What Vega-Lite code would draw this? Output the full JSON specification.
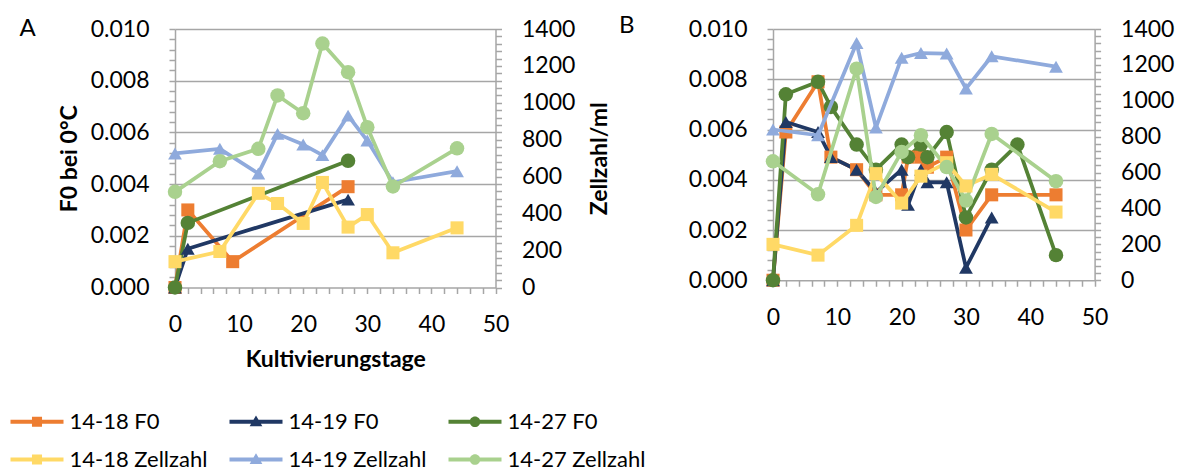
{
  "$schema": "https://vega.github.io/schema/vega-lite/v6.json",
  "autosize": {"type": "pad"},
  "padding": {"left": 10, "top": 14, "right": 5, "bottom": 0},
  "background": "#ffffff",
  "datasets": {
    "A_F0": [
      {"series": "14-18 F0", "day": 0, "value": 0},
      {"series": "14-18 F0", "day": 2, "value": 0.003},
      {"series": "14-18 F0", "day": 9, "value": 0.001},
      {"series": "14-18 F0", "day": 27, "value": 0.0039},
      {"series": "14-19 F0", "day": 0, "value": 0},
      {"series": "14-19 F0", "day": 2, "value": 0.0015},
      {"series": "14-19 F0", "day": 27, "value": 0.0034},
      {"series": "14-27 F0", "day": 0, "value": 0},
      {"series": "14-27 F0", "day": 2, "value": 0.0025},
      {"series": "14-27 F0", "day": 27, "value": 0.0049}
    ],
    "A_Z": [
      {"series": "14-18 Zellzahl", "day": 0, "value": 140},
      {"series": "14-18 Zellzahl", "day": 7, "value": 195},
      {"series": "14-18 Zellzahl", "day": 13, "value": 510},
      {"series": "14-18 Zellzahl", "day": 16, "value": 455},
      {"series": "14-18 Zellzahl", "day": 20, "value": 347},
      {"series": "14-18 Zellzahl", "day": 23, "value": 569},
      {"series": "14-18 Zellzahl", "day": 27, "value": 327},
      {"series": "14-18 Zellzahl", "day": 30, "value": 395},
      {"series": "14-18 Zellzahl", "day": 34, "value": 188},
      {"series": "14-18 Zellzahl", "day": 44, "value": 323},
      {"series": "14-19 Zellzahl", "day": 0, "value": 726},
      {"series": "14-19 Zellzahl", "day": 7, "value": 751},
      {"series": "14-19 Zellzahl", "day": 13, "value": 617},
      {"series": "14-19 Zellzahl", "day": 16, "value": 832},
      {"series": "14-19 Zellzahl", "day": 20, "value": 774},
      {"series": "14-19 Zellzahl", "day": 23, "value": 717},
      {"series": "14-19 Zellzahl", "day": 27, "value": 931},
      {"series": "14-19 Zellzahl", "day": 30, "value": 796},
      {"series": "14-19 Zellzahl", "day": 34, "value": 570},
      {"series": "14-19 Zellzahl", "day": 44, "value": 630},
      {"series": "14-27 Zellzahl", "day": 0, "value": 518},
      {"series": "14-27 Zellzahl", "day": 7, "value": 684},
      {"series": "14-27 Zellzahl", "day": 13, "value": 751},
      {"series": "14-27 Zellzahl", "day": 16, "value": 1040},
      {"series": "14-27 Zellzahl", "day": 20, "value": 944},
      {"series": "14-27 Zellzahl", "day": 23, "value": 1321},
      {"series": "14-27 Zellzahl", "day": 27, "value": 1166},
      {"series": "14-27 Zellzahl", "day": 30, "value": 868},
      {"series": "14-27 Zellzahl", "day": 34, "value": 547},
      {"series": "14-27 Zellzahl", "day": 44, "value": 754}
    ],
    "B_F0": [
      {"series": "14-18 F0", "day": 0, "value": 0},
      {"series": "14-18 F0", "day": 2, "value": 0.0059},
      {"series": "14-18 F0", "day": 7, "value": 0.0079},
      {"series": "14-18 F0", "day": 9, "value": 0.0049},
      {"series": "14-18 F0", "day": 13, "value": 0.0044},
      {"series": "14-18 F0", "day": 16, "value": 0.0034},
      {"series": "14-18 F0", "day": 20, "value": 0.0034},
      {"series": "14-18 F0", "day": 21, "value": 0.0049},
      {"series": "14-18 F0", "day": 23, "value": 0.0049},
      {"series": "14-18 F0", "day": 24, "value": 0.0045},
      {"series": "14-18 F0", "day": 27, "value": 0.0049},
      {"series": "14-18 F0", "day": 30, "value": 0.002},
      {"series": "14-18 F0", "day": 34, "value": 0.0034},
      {"series": "14-18 F0", "day": 44, "value": 0.0034},
      {"series": "14-19 F0", "day": 0, "value": 0},
      {"series": "14-19 F0", "day": 2, "value": 0.0063},
      {"series": "14-19 F0", "day": 7, "value": 0.0059},
      {"series": "14-19 F0", "day": 9, "value": 0.0049},
      {"series": "14-19 F0", "day": 13, "value": 0.0044},
      {"series": "14-19 F0", "day": 16, "value": 0.0035},
      {"series": "14-19 F0", "day": 20, "value": 0.0044},
      {"series": "14-19 F0", "day": 21, "value": 0.003},
      {"series": "14-19 F0", "day": 23, "value": 0.0044},
      {"series": "14-19 F0", "day": 24, "value": 0.0039},
      {"series": "14-19 F0", "day": 27, "value": 0.0039},
      {"series": "14-19 F0", "day": 30, "value": 0.0005},
      {"series": "14-19 F0", "day": 34, "value": 0.0025},
      {"series": "14-27 F0", "day": 0, "value": 0},
      {"series": "14-27 F0", "day": 2, "value": 0.0074},
      {"series": "14-27 F0", "day": 7, "value": 0.0079},
      {"series": "14-27 F0", "day": 9, "value": 0.0069},
      {"series": "14-27 F0", "day": 13, "value": 0.0054},
      {"series": "14-27 F0", "day": 16, "value": 0.0044},
      {"series": "14-27 F0", "day": 20, "value": 0.0054},
      {"series": "14-27 F0", "day": 21, "value": 0.0049},
      {"series": "14-27 F0", "day": 23, "value": 0.0054},
      {"series": "14-27 F0", "day": 24, "value": 0.0049},
      {"series": "14-27 F0", "day": 27, "value": 0.0059},
      {"series": "14-27 F0", "day": 30, "value": 0.0025},
      {"series": "14-27 F0", "day": 34, "value": 0.0044},
      {"series": "14-27 F0", "day": 38, "value": 0.0054},
      {"series": "14-27 F0", "day": 44, "value": 0.001}
    ],
    "B_Z": [
      {"series": "14-18 Zellzahl", "day": 0, "value": 200},
      {"series": "14-18 Zellzahl", "day": 7, "value": 140},
      {"series": "14-18 Zellzahl", "day": 13, "value": 306},
      {"series": "14-18 Zellzahl", "day": 16, "value": 594},
      {"series": "14-18 Zellzahl", "day": 20, "value": 430},
      {"series": "14-18 Zellzahl", "day": 23, "value": 580},
      {"series": "14-18 Zellzahl", "day": 27, "value": 655},
      {"series": "14-18 Zellzahl", "day": 30, "value": 525},
      {"series": "14-18 Zellzahl", "day": 34, "value": 590},
      {"series": "14-18 Zellzahl", "day": 44, "value": 380},
      {"series": "14-19 Zellzahl", "day": 0, "value": 840},
      {"series": "14-19 Zellzahl", "day": 7, "value": 808},
      {"series": "14-19 Zellzahl", "day": 13, "value": 1322},
      {"series": "14-19 Zellzahl", "day": 16, "value": 851},
      {"series": "14-19 Zellzahl", "day": 20, "value": 1240},
      {"series": "14-19 Zellzahl", "day": 23, "value": 1266},
      {"series": "14-19 Zellzahl", "day": 27, "value": 1263},
      {"series": "14-19 Zellzahl", "day": 30, "value": 1068},
      {"series": "14-19 Zellzahl", "day": 34, "value": 1248},
      {"series": "14-19 Zellzahl", "day": 44, "value": 1190},
      {"series": "14-27 Zellzahl", "day": 0, "value": 663},
      {"series": "14-27 Zellzahl", "day": 7, "value": 479},
      {"series": "14-27 Zellzahl", "day": 13, "value": 1179},
      {"series": "14-27 Zellzahl", "day": 16, "value": 464},
      {"series": "14-27 Zellzahl", "day": 20, "value": 715},
      {"series": "14-27 Zellzahl", "day": 23, "value": 808},
      {"series": "14-27 Zellzahl", "day": 27, "value": 631},
      {"series": "14-27 Zellzahl", "day": 30, "value": 444},
      {"series": "14-27 Zellzahl", "day": 34, "value": 815},
      {"series": "14-27 Zellzahl", "day": 44, "value": 552}
    ]
  },
  "spacing": 277,
  "bounds": "flush",
  "resolve": {"scale": {"color": "independent", "shape": "independent", "size": "independent"}},
  "hconcat": [
    {
      "width": 320.5,
      "height": 258.5,
      "title": {"text": "A", "anchor": "start", "frame": "group", "orient": "top", "offset": 0, "dx": -155.5, "dy": 42, "baseline": "alphabetic", "fontSize": 24, "fontWeight": "normal", "font": "Lato", "color": "#000000"},
      "resolve": {"scale": {"y": "independent", "color": "independent", "shape": "independent", "size": "independent"}},
      "encoding": {
        "x": {"field": "day", "type": "quantitative", "scale": {"domain": [0, 50], "nice": false},
          "axis": {"values": [0,2,4,6,8,10,12,14,16,18,20,22,24,26,28,30,32,34,36,38,40,42,44,46,48,50], "labelExpr": "datum.value % 10 == 0 ? datum.label : ''", "labelOverlap": false, "labelFlush": false, "tickSize": 6, "labelPadding": 20, "labelFontSize": 23, "grid": false, "title": "Kultivierungstage", "titleFontSize": 23, "titleFontWeight": "bold", "titlePadding": 12}}
      },
      "layer": [
        {
          "data": {"name": "A_F0"},
          "encoding": {
            "y": {"field": "value", "type": "quantitative", "scale": {"domain": [0, 0.01], "nice": false},
              "axis": {"orient": "left", "values": [0,0.0004,0.0008,0.0012,0.0016,0.002,0.0024,0.0028,0.0032,0.0036,0.004,0.0044,0.0048,0.0052,0.0056,0.006,0.0064,0.0068,0.0072,0.0076,0.008,0.0084,0.0088,0.0092,0.0096,0.01], "labelExpr": "abs(datum.value*500-round(datum.value*500)) < 0.001 ? format(datum.value, '.3f') : ''", "labelOverlap": false, "labelFlush": false, "tickSize": 6, "labelPadding": 20, "labelFontSize": 23, "grid": true, "gridOpacity": {"condition": {"test": "abs(datum.value*500-round(datum.value*500)) < 0.001 && datum.value > 0", "value": 1}, "value": 0}, "title": "F0 bei 0°C", "titleFontSize": 23, "titleFontWeight": "bold", "titlePadding": 9}},
            "color": {"field": "series", "type": "nominal", "scale": {"domain": ["14-18 F0", "14-19 F0", "14-27 F0"], "range": ["#ED7D31", "#203864", "#548235"]}, "legend": null}
          },
          "layer": [
            {"mark": {"type": "line", "strokeWidth": 3.75, "strokeJoin": "round", "strokeCap": "round"}},
            {"mark": {"type": "point", "filled": true, "opacity": 1},
              "encoding": {
                "shape": {"field": "series", "type": "nominal", "scale": {"domain": ["14-18 F0", "14-19 F0", "14-27 F0"], "range": ["square", "triangle-up", "circle"]}, "legend": null},
                "size": {"field": "series", "type": "nominal", "scale": {"domain": ["14-18 F0", "14-19 F0", "14-27 F0"], "range": [170, 210, 170]}, "legend": null}
              }}
          ]
        },
        {
          "data": {"name": "A_Z"},
          "encoding": {
            "y": {"field": "value", "type": "quantitative", "scale": {"domain": [0, 1400], "nice": false},
              "axis": {"orient": "right", "values": [0,40,80,120,160,200,240,280,320,360,400,440,480,520,560,600,640,680,720,760,800,840,880,920,960,1000,1040,1080,1120,1160,1200,1240,1280,1320,1360,1400], "labelExpr": "datum.value % 200 == 0 ? format(datum.value, 'd') : ''", "labelOverlap": false, "labelFlush": false, "tickSize": 6, "labelPadding": 20, "labelFontSize": 23, "grid": false, "title": "Zellzahl/ml", "titleFontSize": 23, "titleFontWeight": "bold", "titleAngle": 270, "titleBaseline": "top", "titlePadding": 14}},
            "color": {"field": "series", "type": "nominal", "scale": {"domain": ["14-18 Zellzahl", "14-19 Zellzahl", "14-27 Zellzahl"], "range": ["#FFD966", "#8FAADC", "#A9D18E"]}, "legend": null}
          },
          "layer": [
            {"mark": {"type": "line", "strokeWidth": 3.75, "strokeJoin": "round", "strokeCap": "round"}},
            {"mark": {"type": "point", "filled": true, "opacity": 1},
              "encoding": {
                "shape": {"field": "series", "type": "nominal", "scale": {"domain": ["14-18 Zellzahl", "14-19 Zellzahl", "14-27 Zellzahl"], "range": ["square", "triangle-up", "circle"]}, "legend": null},
                "size": {"field": "series", "type": "nominal", "scale": {"domain": ["14-18 Zellzahl", "14-19 Zellzahl", "14-27 Zellzahl"], "range": [170, 210, 170]}, "legend": null}
              }}
          ]
        },
        {
          "data": {"values": []},
          "mark": {"type": "point", "filled": true, "opacity": 1},
          "encoding": {
            "color": {"field": "series", "type": "nominal",
              "scale": {"domain": ["14-18 F0", "14-19 F0", "14-27 F0", "14-18 Zellzahl", "14-19 Zellzahl", "14-27 Zellzahl"], "range": ["#ED7D31", "#203864", "#548235", "#FFD966", "#8FAADC", "#A9D18E"]},
              "legend": {"title": null, "orient": "none", "legendX": -164.5, "legendY": 366, "columns": 3, "direction": "horizontal", "symbolSize": 2809, "symbolStrokeWidth": 0, "labelFontSize": 22, "labelFont": "Lato", "labelColor": "#000000", "labelOffset": 6, "labelLimit": 400, "columnPadding": 22, "rowPadding": -13, "padding": 0}},
            "shape": {"field": "series", "type": "nominal",
              "scale": {"domain": ["14-18 F0", "14-19 F0", "14-27 F0", "14-18 Zellzahl", "14-19 Zellzahl", "14-27 Zellzahl"],
                "range": [
                  "M-1,-0.075H1V0.075H-1Z M-0.19,-0.19H0.19V0.19H-0.19Z",
                  "M-1,-0.075H1V0.075H-1Z M0,-0.24L0.24,0.17H-0.24Z",
                  "M-1,-0.075H1V0.075H-1Z M-0.2,0A0.2,0.2,0,1,1,0.2,0A0.2,0.2,0,1,1,-0.2,0Z",
                  "M-1,-0.075H1V0.075H-1Z M-0.19,-0.19H0.19V0.19H-0.19Z",
                  "M-1,-0.075H1V0.075H-1Z M0,-0.24L0.24,0.17H-0.24Z",
                  "M-1,-0.075H1V0.075H-1Z M-0.2,0A0.2,0.2,0,1,1,0.2,0A0.2,0.2,0,1,1,-0.2,0Z"
                ]},
              "legend": {"title": null, "orient": "none", "legendX": -164.5, "legendY": 366, "columns": 3, "direction": "horizontal", "symbolSize": 2809, "symbolStrokeWidth": 0, "labelFontSize": 22, "labelFont": "Lato", "labelColor": "#000000", "labelOffset": 6, "labelLimit": 400, "columnPadding": 22, "rowPadding": -13, "padding": 0}}
          }
        }
      ]
    },
    {
      "width": 321.6,
      "height": 251.25,
      "title": {"text": "B", "anchor": "start", "frame": "group", "orient": "top", "offset": 0, "dx": -154, "dy": 39, "baseline": "alphabetic", "fontSize": 24, "fontWeight": "normal", "font": "Lato", "color": "#000000"},
      "resolve": {"scale": {"y": "independent", "color": "independent", "shape": "independent", "size": "independent"}},
      "encoding": {
        "x": {"field": "day", "type": "quantitative", "scale": {"domain": [0, 50], "nice": false},
          "axis": {"values": [0,2,4,6,8,10,12,14,16,18,20,22,24,26,28,30,32,34,36,38,40,42,44,46,48,50], "labelExpr": "datum.value % 10 == 0 ? datum.label : ''", "labelOverlap": false, "labelFlush": false, "tickSize": 6, "labelPadding": 20, "labelFontSize": 23, "grid": false, "title": null}}
      },
      "layer": [
        {
          "data": {"name": "B_F0"},
          "encoding": {
            "y": {"field": "value", "type": "quantitative", "scale": {"domain": [0, 0.01], "nice": false},
              "axis": {"orient": "left", "values": [0,0.0004,0.0008,0.0012,0.0016,0.002,0.0024,0.0028,0.0032,0.0036,0.004,0.0044,0.0048,0.0052,0.0056,0.006,0.0064,0.0068,0.0072,0.0076,0.008,0.0084,0.0088,0.0092,0.0096,0.01], "labelExpr": "abs(datum.value*500-round(datum.value*500)) < 0.001 ? format(datum.value, '.3f') : ''", "labelOverlap": false, "labelFlush": false, "tickSize": 6, "labelPadding": 20, "labelFontSize": 23, "grid": true, "gridOpacity": {"condition": {"test": "abs(datum.value*500-round(datum.value*500)) < 0.001 && datum.value > 0", "value": 1}, "value": 0}, "title": null}},
            "color": {"field": "series", "type": "nominal", "scale": {"domain": ["14-18 F0", "14-19 F0", "14-27 F0"], "range": ["#ED7D31", "#203864", "#548235"]}, "legend": null}
          },
          "layer": [
            {"mark": {"type": "line", "strokeWidth": 3.75, "strokeJoin": "round", "strokeCap": "round"}},
            {"mark": {"type": "point", "filled": true, "opacity": 1},
              "encoding": {
                "shape": {"field": "series", "type": "nominal", "scale": {"domain": ["14-18 F0", "14-19 F0", "14-27 F0"], "range": ["square", "triangle-up", "circle"]}, "legend": null},
                "size": {"field": "series", "type": "nominal", "scale": {"domain": ["14-18 F0", "14-19 F0", "14-27 F0"], "range": [170, 210, 170]}, "legend": null}
              }}
          ]
        },
        {
          "data": {"name": "B_Z"},
          "encoding": {
            "y": {"field": "value", "type": "quantitative", "scale": {"domain": [0, 1400], "nice": false},
              "axis": {"orient": "right", "values": [0,40,80,120,160,200,240,280,320,360,400,440,480,520,560,600,640,680,720,760,800,840,880,920,960,1000,1040,1080,1120,1160,1200,1240,1280,1320,1360,1400], "labelExpr": "datum.value % 200 == 0 ? format(datum.value, 'd') : ''", "labelOverlap": false, "labelFlush": false, "tickSize": 6, "labelPadding": 20, "labelFontSize": 23, "grid": false, "title": null}},
            "color": {"field": "series", "type": "nominal", "scale": {"domain": ["14-18 Zellzahl", "14-19 Zellzahl", "14-27 Zellzahl"], "range": ["#FFD966", "#8FAADC", "#A9D18E"]}, "legend": null}
          },
          "layer": [
            {"mark": {"type": "line", "strokeWidth": 3.75, "strokeJoin": "round", "strokeCap": "round"}},
            {"mark": {"type": "point", "filled": true, "opacity": 1},
              "encoding": {
                "shape": {"field": "series", "type": "nominal", "scale": {"domain": ["14-18 Zellzahl", "14-19 Zellzahl", "14-27 Zellzahl"], "range": ["square", "triangle-up", "circle"]}, "legend": null},
                "size": {"field": "series", "type": "nominal", "scale": {"domain": ["14-18 Zellzahl", "14-19 Zellzahl", "14-27 Zellzahl"], "range": [170, 210, 170]}, "legend": null}
              }}
          ]
        }
      ]
    }
  ],
  "config": {
    "font": "Lato",
    "view": {"stroke": null},
    "axis": {"labelOverlap": false, "domainColor": "#A6A6A6", "domainWidth": 1.5, "tickColor": "#A6A6A6", "tickWidth": 1.5, "gridColor": "#A6A6A6", "gridWidth": 1.5, "labelColor": "#000000", "titleColor": "#000000", "labelFont": "Lato", "titleFont": "Lato"}
  }
}
